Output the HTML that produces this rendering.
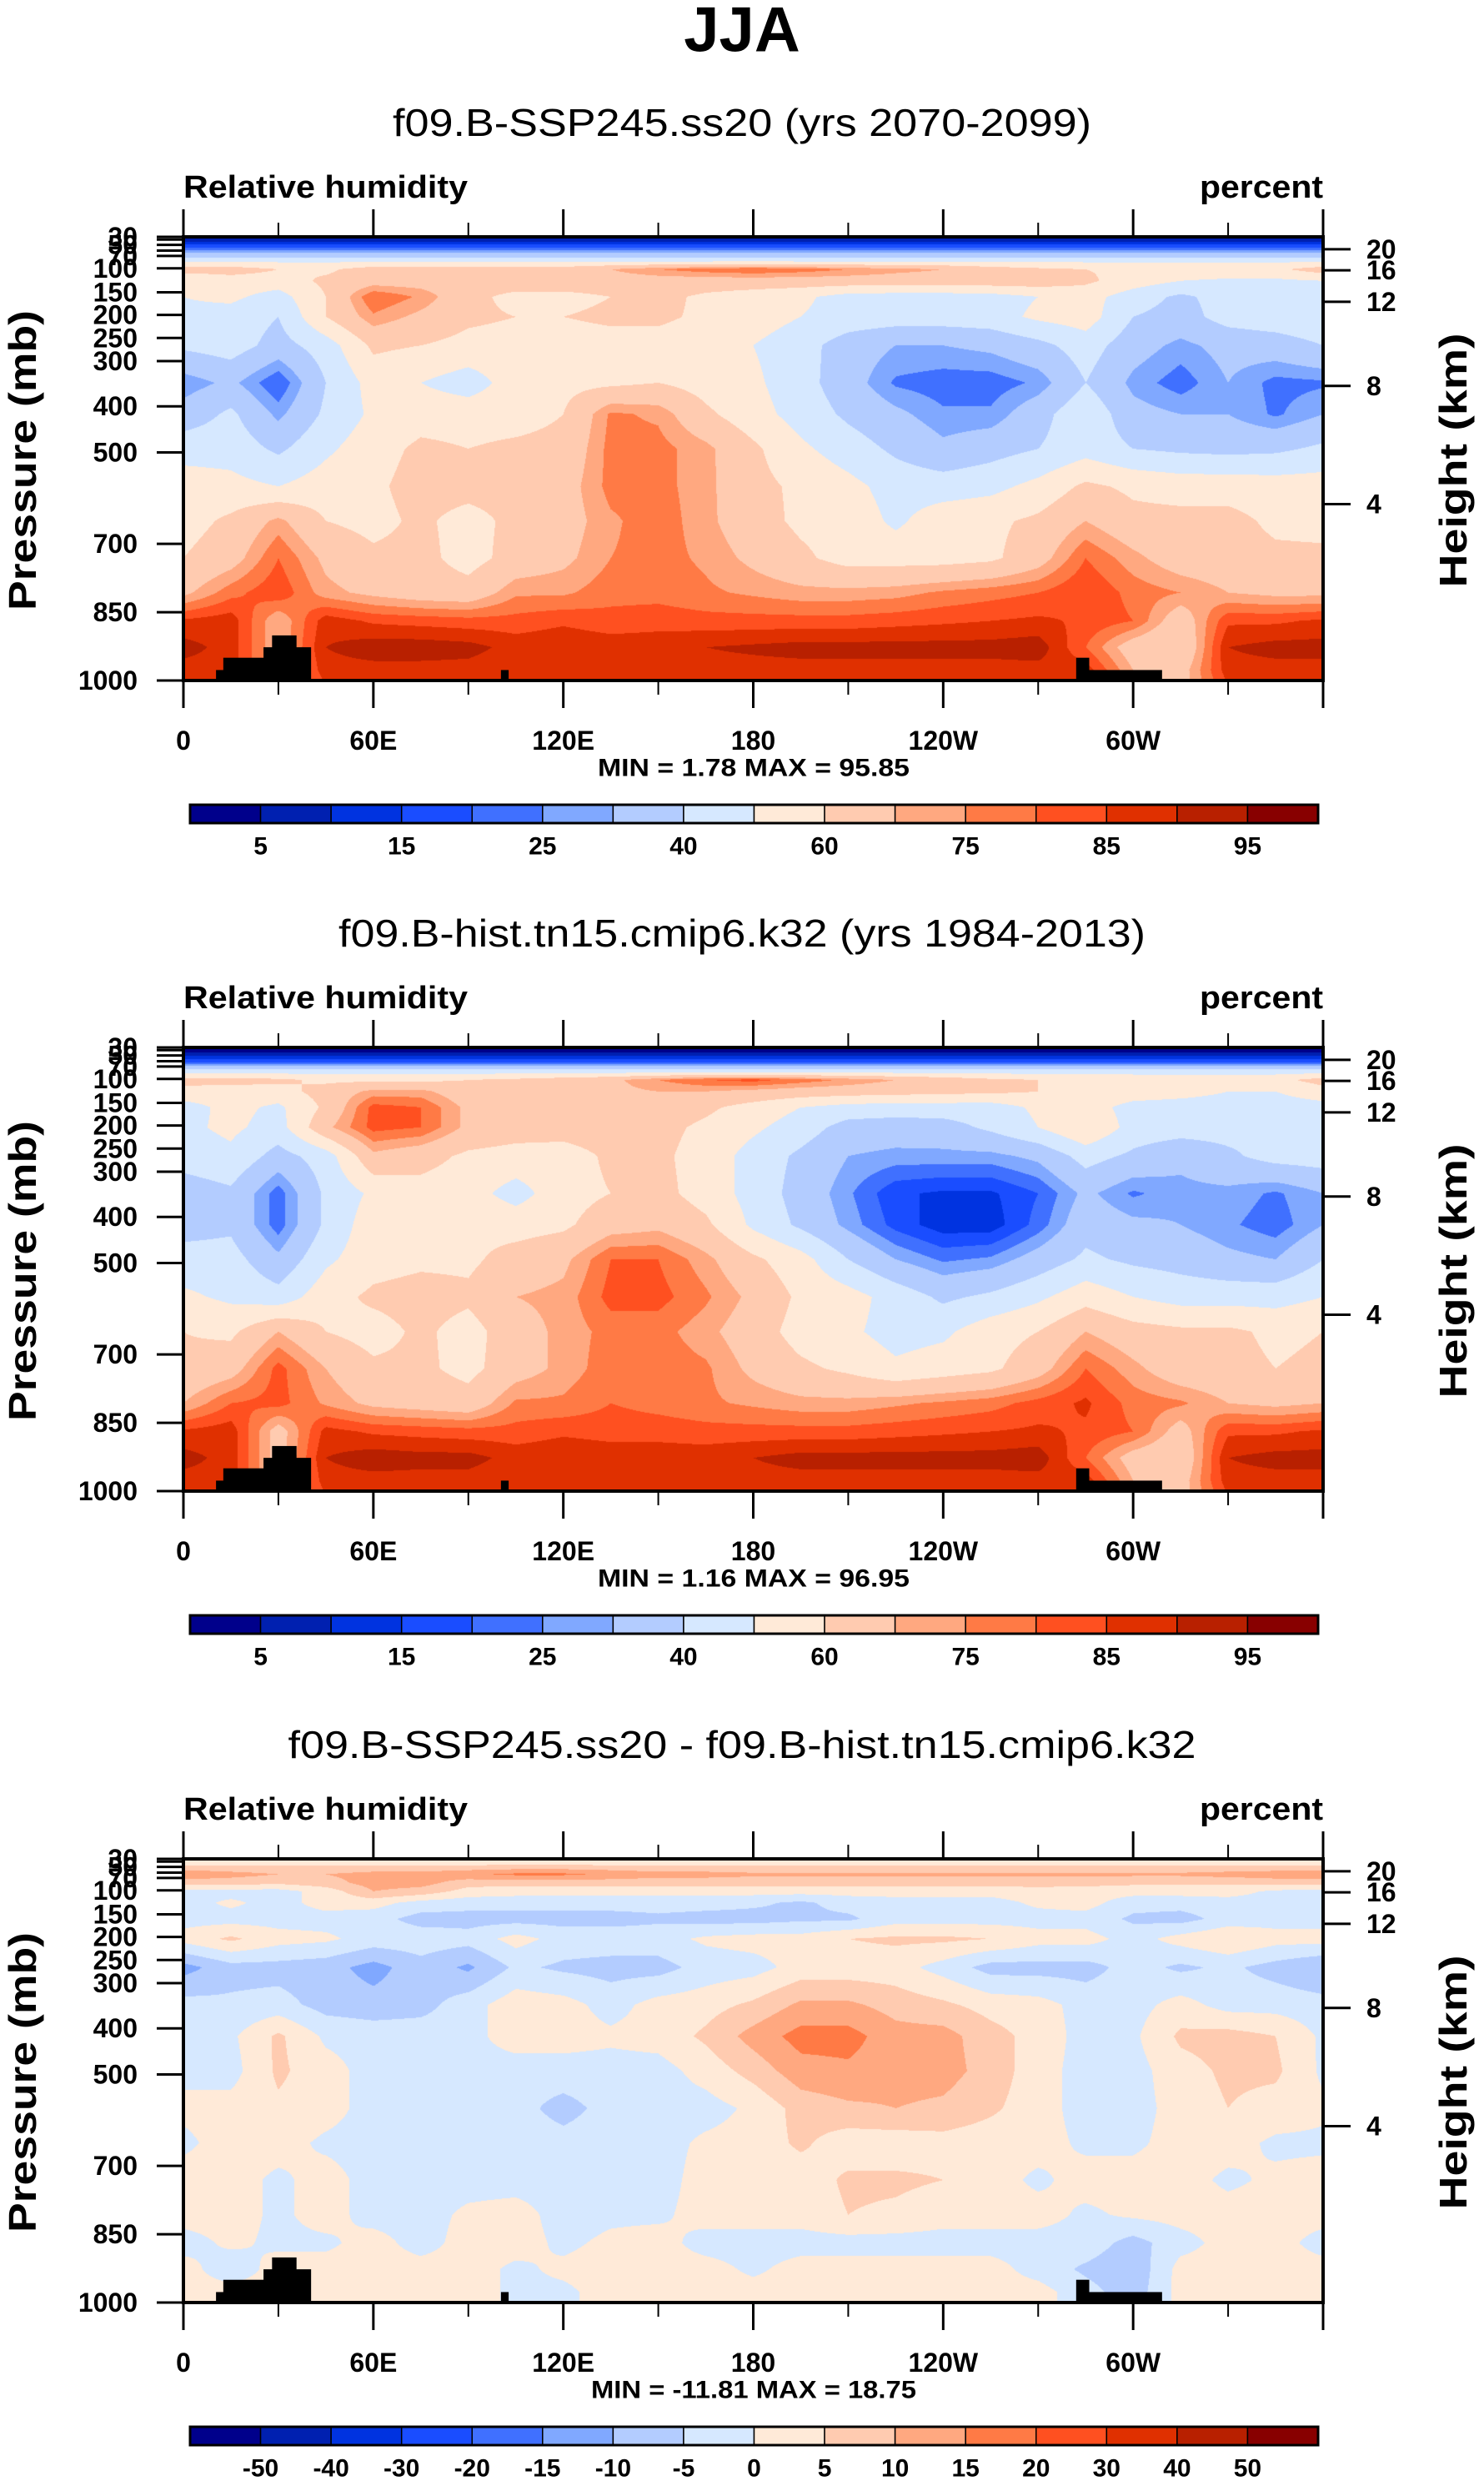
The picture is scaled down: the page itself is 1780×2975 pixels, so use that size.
<!DOCTYPE html>
<html><head><meta charset="utf-8">
<style>
html,body{margin:0;padding:0;background:#fff;}
#wrap{position:relative;width:1780px;height:2975px;overflow:hidden;font-family:"Liberation Sans",sans-serif;}
canvas{position:absolute;}
svg{position:absolute;left:0;top:0;}
</style></head>
<body>
<div id="wrap">
<canvas id="c1"></canvas>
<canvas id="c2"></canvas>
<canvas id="c3"></canvas>
<svg id="svg" width="1780" height="2975"></svg>
</div>
<script>
// ---- data ----
const lons = [0,15,30,45,60,75,90,105,120,135,150,165,180,195,210,225,240,255,270,285,300,315,330,345,360];
const levels = [30,45,63,82,102,126,160,204,266,348,417,492,574,650,731,807,869,927,977,1000];
const rhFuture = [
[2,2,2,2,2,2,2,2,2,2,2,2,2,2,2,2,2,2,2,2,2,2,2,2,2],
[11,11,11,11,11,11,11,11,11,11,11,11,11,11,11,11,11,11,11,11,11,11,11,11,11],
[28,28,28,28,28,28,28,28,28,28,28,28,28,28,28,28,28,28,28,28,28,28,28,28,28],
[48,48,48,48,48,48,48,48,48,48,48,48,48,48,48,48,48,48,48,48,48,48,48,48,48],
[65,65,60,58,65,65,65,65,65,70,75,78,80,78,75,72,70,65,62,60,58,58,58,58,65],
[50,55,55,62,66,66,66,66,66,66,66,66,66,66,66,66,66,66,66,62,55,50,48,48,50],
[50,52,46,60,80,74,63,57,57,60,63,58,55,52,46,45,45,46,50,54,45,38,44,46,50],
[48,46,40,60,74,68,62,60,60,62,62,58,55,50,46,45,45,46,52,55,40,36,44,46,48],
[42,45,36,45,62,60,57,56,55,56,56,54,50,44,35,30,30,32,37,45,34,28,33,35,40],
[26,32,20,40,54,50,45,55,57,58,60,56,52,44,34,24,22,22,26,40,28,22,30,23,24],
[34,42,28,42,52,56,56,56,60,76,74,62,54,46,38,32,26,26,36,48,33,30,30,24,30],
[46,46,38,48,56,62,60,62,63,77,77,72,62,52,45,38,32,36,40,46,40,38,37,38,42],
[55,53,50,55,58,64,64,64,66,77,77,72,63,58,53,46,45,47,53,62,58,56,56,55,55],
[56,62,72,60,57,62,56,63,66,74,78,72,64,58,56,48,56,58,62,70,63,63,63,58,57],
[60,66,80,68,62,63,56,64,68,75,77,74,68,62,56,56,56,58,66,80,72,65,64,62,62],
[68,78,84,72,68,65,64,74,74,78,78,76,74,72,72,73,76,78,80,85,78,75,70,68,68],
[86,88,70,88,84,83,82,82,84,82,83,82,82,82,82,83,84,85,86,84,80,64,84,84,86],
[92,88,70,90,93,93,92,88,89,88,88,90,91,92,92,92,92,92,93,80,65,60,90,92,92],
[88,88,70,88,88,88,88,86,88,88,88,88,88,88,88,88,88,88,88,88,70,66,88,88,88],
[86,86,70,86,86,86,86,86,86,86,86,86,86,86,86,86,86,86,86,86,70,66,86,86,86]
];
const rhHist = [
[2,2,2,2,2,2,2,2,2,2,2,2,2,2,2,2,2,2,2,2,2,2,2,2,2],
[5,5,5,5,5,5,5,5,5,5,5,5,5,5,5,5,5,5,5,5,5,5,5,5,5],
[20,20,20,20,20,20,20,20,20,20,20,20,20,20,20,20,20,20,20,20,20,20,20,20,20],
[46,46,46,46,46,46,46,46,46,46,46,46,46,46,46,46,46,46,46,46,46,46,46,46,46],
[64,64,62,58,58,58,60,62,65,68,75,80,82,78,74,70,66,62,60,58,57,57,57,57,64],
[56,55,56,64,72,72,64,65,66,68,70,70,68,66,65,64,63,62,60,58,56,54,50,50,56],
[46,53,48,62,82,80,68,65,65,65,66,62,56,50,46,45,45,45,52,55,46,45,45,45,46],
[48,52,46,68,82,80,68,65,65,66,63,58,52,45,36,35,36,42,50,60,46,45,44,42,48],
[45,48,36,45,68,64,58,56,55,62,62,56,46,38,30,28,28,28,32,44,38,32,38,44,45],
[34,38,22,42,52,56,54,46,56,60,63,56,46,36,26,16,14,14,20,32,24,28,28,24,30],
[36,38,22,42,56,58,58,56,58,66,68,62,48,38,28,18,12,12,22,36,32,30,26,22,30],
[44,44,32,48,56,58,58,64,68,80,80,72,62,54,40,30,24,26,34,42,38,36,32,30,40],
[52,48,44,56,62,64,62,70,72,82,82,76,68,58,54,46,38,42,48,56,50,46,46,46,50],
[60,58,70,60,56,62,56,66,72,77,77,72,65,56,52,46,48,56,60,70,64,62,62,58,60],
[62,66,82,70,62,62,57,66,72,78,78,76,68,62,58,52,55,58,66,80,72,64,63,60,62],
[70,80,82,74,68,66,64,76,76,80,78,76,74,72,72,74,76,78,82,86,78,76,70,68,70],
[86,88,66,87,84,83,82,82,84,83,83,82,82,82,82,83,84,85,86,84,80,66,84,84,86],
[92,88,66,90,93,92,92,88,89,88,88,88,90,92,92,92,92,92,93,80,66,62,90,92,92],
[88,88,66,88,88,88,88,86,88,88,88,88,88,88,88,88,88,88,88,88,70,66,88,88,88],
[86,86,66,86,86,86,86,86,86,86,86,86,86,86,86,86,86,86,86,86,70,66,86,86,86]
];
const rhDiff = [
[2,2,2,2,2,2,2,2,2,2,2,2,2,2,2,2,2,2,2,2,2,2,2,2,2],
[4,4,4,4,4,4,4,4,4,4,4,4,4,4,4,4,4,4,4,4,4,4,4,4,4],
[14,12,10,10,12,12,14,16,16,14,12,12,11,11,11,11,11,11,11,11,11,11,12,13,14],
[7,7,6,8,12,12,7,7,7,7,7,7,7,7,7,7,7,7,7,7,6,6,6,7,7],
[-2,-2,-2,2,10,8,3,2,2,2,2,2,2,2,2,2,2,2,3,2,2,2,2,-1,-2],
[-2,1,-2,2,2,-2,-3,-3,-3,-3,-3,-3,-4,-6,-3,-2,-2,-2,1,2,-3,-3,-2,-2,-2],
[-2,-2,-2,-2,-3,-7,-7,-7,-7,-7,-6,-7,-7,-6,-6,-2,-2,-2,-2,-2,-6,-7,-3,-2,-2],
[2,6,2,1,-2,-2,-3,2,-2,-2,-2,1,2,2,5,6,6,5,2,2,-2,2,5,2,2],
[-12,-7,-7,-8,-12,-7,-11,-4,-6,-7,-7,-3,-2,2,2,2,-2,-7,-7,-7,-3,-6,-4,-7,-10],
[-3,-4,-3,-7,-8,-7,-2,3,2,-2,2,3,6,11,11,8,6,3,2,-2,-2,2,-2,-2,-3],
[-2,-1,6,-1,-2,-2,-2,3,2,1,2,6,12,17,17,12,12,7,3,-2,-1,6,7,5,-1],
[-1,-2,6,2,-2,-2,-2,-3,-2,-2,-2,2,7,13,14,12,12,8,2,-2,-2,3,6,6,-1],
[1,2,4,2,-2,-2,-2,-3,-7,-3,-2,-2,1,7,9,10,9,6,2,-2,-2,2,5,3,1],
[-1,2,2,-1,-2,-2,-2,-2,-3,-2,-2,1,2,6,2,2,3,2,2,-1,-1,2,2,-1,-1],
[2,2,-1,2,-2,-2,-2,-2,-2,-2,-2,2,2,2,6,6,5,2,-1,2,2,2,-1,1,2],
[2,2,-1,2,-2,-2,1,2,-2,-1,-1,2,2,2,5,4,2,2,2,-1,1,2,2,2,2],
[-2,1,-1,-1,2,-2,2,2,-1,1,2,-2,-2,-2,-2,-2,-2,-2,-2,-2,-7,-2,2,2,-2],
[2,-3,2,2,2,2,2,-1,1,2,2,2,-1,2,2,2,2,2,-2,-6,-9,2,2,2,2],
[2,2,2,2,2,2,2,-1,-1,2,2,2,2,2,2,2,2,2,2,-3,-8,2,2,2,2],
[2,2,2,2,2,2,2,-1,-1,2,2,2,2,2,2,2,2,2,2,-3,-8,2,2,2,2]
];
const rhLevels = [5,10,15,20,25,30,40,50,60,70,75,80,85,90,95];
const rhLabels = ["5","15","25","40","60","75","85","95"];
const diffLevels = [-50,-40,-30,-20,-15,-10,-5,0,5,10,15,20,30,40,50];
const minMax = ["MIN =  1.78  MAX =  95.85","MIN =  1.16  MAX =  96.95","MIN = -11.81  MAX =  18.75"];
const landLon0 = [10.3,12.6,25.3,28,35.6,100.3,282,286];
const landLon1 = [12.6,25.3,28,35.6,40.2,102.6,286,309];
const landTopP = [977,950,927,901,927,977,950,977];
const pTab = [30,40,50,60,70,100,150,200,250,300,400,500,700,850,1000];
const pLabels = ["30","","50","","70","100","150","200","250","300","400","500","700","850","1000"];
const heightKm = ["20","16","12","8","4"];
const heightP = [57.7,104,171,355,613];
const lonMajor = [0,60,120,180,240,300,360];
const lonMinor = [30,90,150,210,270,330];
const lonLabels = ["0","60E","120E","180","120W","60W"];

// ---- layout ----
const fTab = [0,0.006,0.018,0.031,0.043,0.071,0.125,0.176,0.228,0.280,0.382,0.486,0.692,0.846,1];
const PX0 = 220, PX1 = 1587, PW = PX1 - PX0, PH = 532;
const tops = [284, 1256, 2229];
const COLORS = ["#00008b","#0020b0","#0033e0","#1a4dff","#4070ff","#80a8ff","#b3ccff","#d6e8ff","#ffead8","#ffcbb0","#ffa880","#ff7a45","#ff5020","#e03000","#b82000","#880000"];
const RGB = COLORS.map(c => [parseInt(c.slice(1,3),16),parseInt(c.slice(3,5),16),parseInt(c.slice(5,7),16)]);
function yFrac(p){
  if (p <= pTab[0]) return 0;
  for (let i=1;i<pTab.length;i++){ if (p <= pTab[i]) return fTab[i-1] + (fTab[i]-fTab[i-1])*(p-pTab[i-1])/(pTab[i]-pTab[i-1]); }
  return 1;
}
function xPix(lon){ return PX0 + lon/360*PW; }
function yPix(p, top){ return top + yFrac(p)*PH; }
function classify(v, lev){ let k=0; while(k<lev.length && v>=lev[k]) k++; return k; }

const NS = "http://www.w3.org/2000/svg";
const svg = document.getElementById('svg');
function el(tag, attrs, parent){ const e=document.createElementNS(NS,tag); for(const k in attrs) e.setAttribute(k,attrs[k]); (parent||svg).appendChild(e); return e; }
function txt(s, attrs, parent){ const e=el('text',attrs,parent); e.textContent=s; return e; }

function drawField(canvasId, field, lev, top){
  const cv = document.getElementById(canvasId);
  cv.width = PW; cv.height = PH; cv.style.left = PX0+'px'; cv.style.top = top+'px';
  const ctx = cv.getContext('2d'); const img = ctx.createImageData(PW, PH); const d = img.data;
  const rf = levels.map(yFrac);
  let r = 0;
  for (let py=0; py<PH; py++){
    const f = (py+0.5)/PH;
    while (r < rf.length-2 && f > rf[r+1]) r++;
    const t = Math.min(1, Math.max(0, (f-rf[r])/(rf[r+1]-rf[r])));
    const a = field[r], b = field[r+1];
    for (let px=0; px<PW; px++){
      const lon = (px+0.5)/PW*360; const cf = lon/15; let c = Math.floor(cf); if (c>=lons.length-1) c = lons.length-2; const u = cf-c;
      const v = (a[c]*(1-u)+a[c+1]*u)*(1-t) + (b[c]*(1-u)+b[c+1]*u)*t;
      const col = RGB[classify(v, lev)]; const i=(py*PW+px)*4;
      d[i]=col[0]; d[i+1]=col[1]; d[i+2]=col[2]; d[i+3]=255;
    }
  }
  ctx.putImageData(img,0,0);
}

function drawPanel(idx, field, lev, subtitle, subLen, cbLabels, cbLabelIdx){
  const top = tops[idx], bot = top + PH;
  const g = el('g', {});
  
  
  drawField('c'+(idx+1), field, lev, top);
  const st = txt(subtitle, {x:890, y:top-137, 'text-anchor':'middle', 'font-size':46, textLength:subLen, lengthAdjust:'spacingAndGlyphs', 'dominant-baseline':'central'}, g);
   
  const lt = txt("Relative humidity", {x:PX0, y:top-59, 'font-size':38, 'font-weight':'bold', textLength:341, lengthAdjust:'spacingAndGlyphs', 'dominant-baseline':'central'}, g);
   
  const rt = txt("percent", {x:PX1, y:top-59, 'text-anchor':'end', 'font-size':38, 'font-weight':'bold', textLength:148, lengthAdjust:'spacingAndGlyphs', 'dominant-baseline':'central'}, g);
   
  for (let i=0;i<landLon0.length;i++){
    const x0=xPix(landLon0[i]), x1=xPix(landLon1[i]), y0=yPix(landTopP[i],top);
    const r = el('rect',{x:x0,y:y0,width:x1-x0+0.5,height:bot-y0,fill:'#000'},g);
     
  }
  const fr = el('rect',{x:PX0,y:top,width:PW,height:PH,fill:'none',stroke:'#000','stroke-width':4},g);
   
  lonMajor.forEach(l => {
    const x = xPix(l);
    el('line',{x1:x,y1:top,x2:x,y2:top-33,stroke:'#000','stroke-width':3},g);
    el('line',{x1:x,y1:bot,x2:x,y2:bot+33,stroke:'#000','stroke-width':3},g);
  });
  lonMinor.forEach(l => {
    const x = xPix(l);
    el('line',{x1:x,y1:top,x2:x,y2:top-17,stroke:'#000','stroke-width':2},g);
    el('line',{x1:x,y1:bot,x2:x,y2:bot+17,stroke:'#000','stroke-width':2},g);
  });
  lonLabels.forEach((s,i) => {
    const t = txt(s,{x:xPix(lonMajor[i]), y:bot+72, 'text-anchor':'middle','font-size':32,'font-weight':'bold','dominant-baseline':'central'},g);
     
  });
  pTab.forEach((p,i) => {
    const y = yPix(p,top);
    el('line',{x1:PX0-32,y1:y,x2:PX0,y2:y,stroke:'#000','stroke-width':3},g);
    if (pLabels[i]) {
      const t = txt(pLabels[i],{x:165,y:y,'text-anchor':'end','font-size':32,'font-weight':'bold','dominant-baseline':'central'},g);
       
    }
  });
  heightP.forEach((p,i) => {
    const y = yPix(p,top);
    el('line',{x1:PX1,y1:y,x2:PX1+33,y2:y,stroke:'#000','stroke-width':3},g);
    const t = txt(heightKm[i],{x:1639,y:y,'font-size':32,'font-weight':'bold','dominant-baseline':'central'},g);
     
  });
  const yt = txt("Pressure (mb)",{x:0,y:0,'text-anchor':'middle','font-size':46,'font-weight':'bold','dominant-baseline':'central',textLength:360,lengthAdjust:'spacingAndGlyphs',transform:`translate(27,${top+PH/2+2}) rotate(-90)`},g);
   
  const ht = txt("Height (km)",{x:0,y:0,'text-anchor':'middle','font-size':46,'font-weight':'bold','dominant-baseline':'central',textLength:305,lengthAdjust:'spacingAndGlyphs',transform:`translate(1743,${top+PH/2+2}) rotate(-90)`},g);
   
  const mm = txt(minMax[idx],{x:904,y:bot+105,'text-anchor':'middle','font-size':30,'font-weight':'bold','dominant-baseline':'central',textLength:(idx==2?390:374),lengthAdjust:'spacingAndGlyphs'},g);
   
  const cbx0=228, cbx1=1581, cby=bot+149, cbh=22, n=COLORS.length, bw=(cbx1-cbx0)/n;
  const cb = el('g',{},g);
   
  for (let k=0;k<n;k++){
    const r = el('rect',{x:cbx0+k*bw,y:cby,width:bw,height:cbh,fill:COLORS[k],stroke:'#000','stroke-width':1.5},cb);
     
  }
  el('rect',{x:cbx0,y:cby,width:cbx1-cbx0,height:cbh,fill:'none',stroke:'#000','stroke-width':3},cb);
  cbLabels.forEach((s,i) => {
    const k = cbLabelIdx[i];
    const t = txt(s,{x:cbx0+(k+1)*bw,y:bot+199,'text-anchor':'middle','font-size':30,'font-weight':'bold','dominant-baseline':'central'},cb);
     
  });
}

const title = txt("JJA",{x:890,y:36,'text-anchor':'middle','font-size':76,'font-weight':'bold','dominant-baseline':'central'});



drawPanel(0, rhFuture, rhLevels, "f09.B-SSP245.ss20 (yrs 2070-2099)", 838, rhLabels, [0,2,4,6,8,10,12,14]);
drawPanel(1, rhHist, rhLevels, "f09.B-hist.tn15.cmip6.k32 (yrs 1984-2013)", 968, rhLabels, [0,2,4,6,8,10,12,14]);
drawPanel(2, rhDiff, diffLevels, "f09.B-SSP245.ss20 - f09.B-hist.tn15.cmip6.k32", 1089, diffLevels.map(String), diffLevels.map((v,i)=>i));
</script>
</body></html>
